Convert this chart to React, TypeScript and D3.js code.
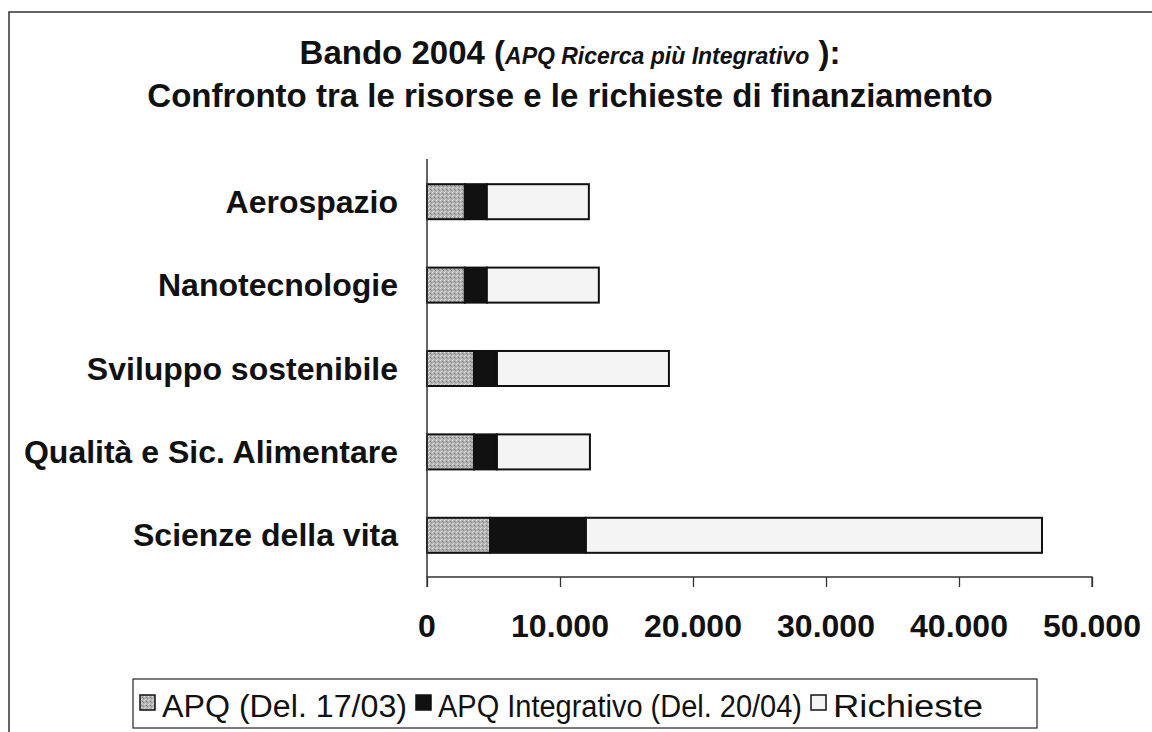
import * as d3 from "d3";
import { useEffect, useRef } from "react";

const categories = ["Aerospazio", "Nanotecnologie", "Sviluppo sostenibile", "Qualità e Sic. Alimentare", "Scienze della vita"];
const apq = [2850, 2850, 3530, 3530, 4740];
const apqIntegrativo = [1650, 1650, 1730, 1730, 7210];
const richieste = [7670, 8420, 12930, 6990, 34290];
const seriesNames = ["APQ (Del. 17/03)", "APQ Integrativo (Del. 20/04)", "Richieste"];
const xTicks = [0, 10000, 20000, 30000, 40000, 50000];

const FONT = "'Liberation Sans', Arial, sans-serif";

export default function App() {
  const ref = useRef<SVGSVGElement | null>(null);

  useEffect(() => {
    if (!ref.current) return;
    const svg = d3.select(ref.current);
    svg.selectAll("*").remove();

    // fills: stippled grey, solid black, near white
    const defs = svg.append("defs");
    const pat = defs.append("pattern").attr("id", "stipple").attr("width", 4).attr("height", 4).attr("patternUnits", "userSpaceOnUse");
    pat.append("rect").attr("width", 4).attr("height", 4).attr("fill", "#b4b4b4");
    pat.append("rect").attr("x", 0).attr("y", 0).attr("width", 1).attr("height", 1).attr("fill", "#e0e0e0");
    pat.append("rect").attr("x", 2).attr("y", 1).attr("width", 1).attr("height", 1).attr("fill", "#7a7a7a");
    pat.append("rect").attr("x", 1).attr("y", 3).attr("width", 1).attr("height", 1).attr("fill", "#d8d8d8");
    pat.append("rect").attr("x", 3).attr("y", 2).attr("width", 1).attr("height", 1).attr("fill", "#8a8a8a");
    const fills = ["url(#stipple)", "#111", "#f4f4f4"];

    // outer frame
    svg.append("rect").attr("x", 9).attr("y", 12).attr("width", 1200).attr("height", 800)
      .attr("fill", "white").attr("stroke", "#333").attr("stroke-width", 1.5);

    // title
    const t1 = svg.append("text").attr("x", 570).attr("y", 64).attr("text-anchor", "middle")
      .attr("font-family", FONT).attr("font-weight", "bold").attr("font-size", 33).attr("fill", "#111");
    t1.append("tspan").text("Bando 2004 (");
    t1.append("tspan").attr("font-style", "italic").attr("font-size", 23).text("APQ Ricerca più Integrativo");
    t1.append("tspan").text(" ):");
    svg.append("text").attr("x", 570).attr("y", 107).attr("text-anchor", "middle")
      .attr("font-family", FONT).attr("font-weight", "bold").attr("font-size", 33).attr("fill", "#111")
      .text("Confronto tra le risorse e le richieste di finanziamento");

    const x = d3.scaleLinear().domain([0, 50000]).range([427, 1092]);
    const y = d3.scaleBand().domain(categories).range([160, 577]).paddingInner(0.58).paddingOuter(0.29);

    const rows = categories.map((c, i) => ({ c, v: [apq[i], apqIntegrativo[i], richieste[i]] }));
    const stacked = d3.stack<{ c: string; v: number[] }, number>()
      .keys([0, 1, 2])
      .value((d, k) => d.v[k])(rows);

    stacked.forEach((layer, k) => {
      svg.append("g").selectAll("rect").data(layer).join("rect")
        .attr("x", (d) => x(d[0]))
        .attr("y", (d) => y(d.data.c)!)
        .attr("width", (d) => x(d[1]) - x(d[0]))
        .attr("height", y.bandwidth())
        .attr("fill", fills[k])
        .attr("stroke", "#111").attr("stroke-width", 2);
    });

    // axes
    const xAxis = svg.append("g").attr("transform", "translate(0,577)")
      .call(d3.axisBottom(x).tickValues(xTicks).tickSize(10).tickSizeOuter(10).tickFormat(() => ""));
    xAxis.selectAll(".domain, .tick line").attr("stroke", "#333").attr("stroke-width", 1.3);
    xAxis.select(".domain").attr("d", `M${x(0)},10V0H${x(50000)}V10`);

    svg.append("g").selectAll("text").data(xTicks).join("text")
      .attr("x", (d) => x(d)).attr("y", 637).attr("text-anchor", "middle")
      .attr("font-family", FONT).attr("font-weight", "bold").attr("font-size", 32).attr("fill", "#111")
      .text((d) => d3.format(",")(d).replace(/,/g, "."));

    svg.append("line").attr("x1", x(0)).attr("x2", x(0)).attr("y1", 159).attr("y2", 577)
      .attr("stroke", "#333").attr("stroke-width", 1.5);

    svg.append("g").selectAll("text").data(categories).join("text")
      .attr("x", 398).attr("y", (d) => y(d)! + y.bandwidth() / 2 + 11).attr("text-anchor", "end")
      .attr("font-family", FONT).attr("font-weight", "bold").attr("font-size", 32).attr("fill", "#111")
      .text((d) => d);

    // legend
    svg.append("rect").attr("x", 133).attr("y", 679).attr("width", 904).attr("height", 49)
      .attr("fill", "white").attr("stroke", "#333").attr("stroke-width", 1.3);
    const legendX = [140, 416, 811];
    const legendW = [245, 364, 150];
    const lg = svg.append("g").selectAll("g").data(seriesNames).join("g")
      .attr("transform", (_, i) => `translate(${legendX[i]},0)`);
    lg.append("rect").attr("x", 0).attr("y", 695).attr("width", 15).attr("height", 15)
      .attr("fill", (_, i) => fills[i]).attr("stroke", "#111").attr("stroke-width", 1.5);
    lg.append("text").attr("x", 22).attr("y", 717)
      .attr("font-family", FONT).attr("font-size", 31).attr("fill", "#111")
      .attr("textLength", (_, i) => legendW[i]).attr("lengthAdjust", "spacingAndGlyphs")
      .text((d) => d);
  }, []);

  return (
    <svg ref={ref} width={1152} height={732} style={{ position: "absolute", left: 0, top: 0, background: "white" }} />
  );
}
